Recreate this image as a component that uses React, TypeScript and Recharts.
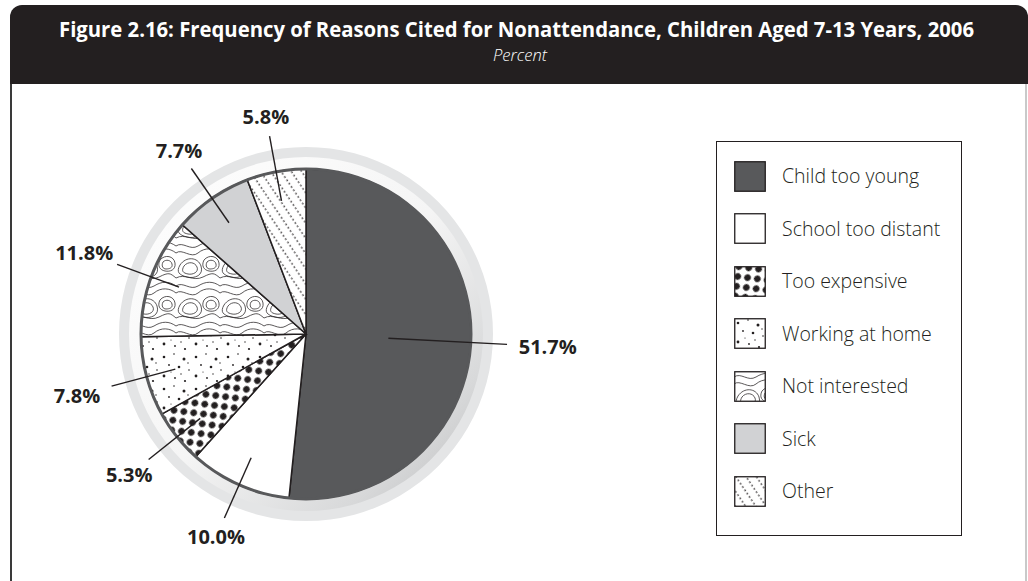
import React, { useLayoutEffect, useRef, useState } from 'react';
import { PieChart, Pie, Cell, Legend } from 'recharts';

const title = 'Figure 2.16: Frequency of Reasons Cited for Nonattendance, Children Aged 7-13 Years, 2006';
const subtitle = 'Percent';
const categories = ['Child too young', 'School too distant', 'Too expensive', 'Working at home', 'Not interested', 'Sick', 'Other'];
const percentages = [51.7, 10.0, 5.3, 7.8, 11.8, 7.7, 5.8];

const fills = ['#58595b', '#ffffff', 'url(#pDots)', 'url(#pSpeckle)', 'url(#pContour)', '#d1d2d4', 'url(#pDiag)'];

const data = categories.map((name, i) => ({ name, value: percentages[i] }));
const ring = [{ name: 'ring', value: 1 }];

const INK = '#231f20';
const RAD = Math.PI / 180;
const CX = 306;
const CY = 334;
const R = 165;
const TITLE_WIDTH = 915;

const renderLabel = (props: any) => {
  const { cx, cy, midAngle, outerRadius, value, percent } = props;
  const cos = Math.cos(-midAngle * RAD);
  const sin = Math.sin(-midAngle * RAD);
  const r0 = percent > 0.3 ? outerRadius * 0.5 : outerRadius * 0.82;
  const r1 = outerRadius * 1.22;
  const text = Number(value).toFixed(1) + '%';
  const w = text.length * 11.5;
  const h = 16;
  const dx = Math.abs(cos) > 1e-6 ? w / 2 / Math.abs(cos) : Infinity;
  const dy = Math.abs(sin) > 1e-6 ? h / 2 / Math.abs(sin) : Infinity;
  const d = Math.min(dx, dy) + 12;
  const lx = cx + (r1 + d) * cos;
  const ly = cy + (r1 + d) * sin;
  return (
    <g>
      <line x1={cx + r0 * cos} y1={cy + r0 * sin} x2={cx + r1 * cos} y2={cy + r1 * sin} stroke={INK} strokeWidth={1.4} />
      <text x={lx} y={ly} textAnchor="middle" dominantBaseline="central" fill={INK}
        style={{ fontFamily: "'Open Sans', 'Noto Sans', sans-serif", fontWeight: 700, fontSize: 20 }}>
        {text}
      </text>
    </g>
  );
};

const renderLegend = () => (
  <div style={{
    boxSizing: 'border-box', width: 246, height: 395, border: `1.5px solid ${INK}`, background: '#fff',
    paddingTop: 19, paddingLeft: 17,
  }}>
    {categories.map((c, i) => (
      <div key={c} style={{ display: 'flex', alignItems: 'center', height: 30, marginBottom: i < categories.length - 1 ? 22.5 : 0 }}>
        <svg width={32} height={31} style={{ display: 'block' }}>
          <rect x={0.75} y={0.75} width={30.5} height={29.5} fill={fills[i]} stroke={INK} strokeWidth={1.3} />
        </svg>
        <span style={{
          marginLeft: 16, fontFamily: "'Open Sans', 'Noto Sans', sans-serif", fontWeight: 300, fontSize: 19.5,
          color: INK, whiteSpace: 'nowrap', lineHeight: '30px',
        }}>{c}</span>
      </div>
    ))}
  </div>
);

const Defs = () => (
  <svg width={0} height={0} style={{ position: 'absolute', left: 0, top: 0 }}>
    <defs>
      <pattern id="pDots" patternUnits="userSpaceOnUse" width={14} height={14} patternTransform="rotate(-38)">
        <rect width={14} height={14} fill="#fff" />
        <circle cx={3.5} cy={3.5} r={3.3} fill={INK} />
        <circle cx={10.5} cy={10.5} r={3.3} fill={INK} />
      </pattern>
      <pattern id="pSpeckle" patternUnits="userSpaceOnUse" width={32} height={32}>
        <rect width={32} height={32} fill="#fff" />
        <circle cx={4} cy={5} r={1.3} fill={INK} />
        <circle cx={14} cy={2} r={0.8} fill={INK} />
        <circle cx={24} cy={7} r={1.5} fill={INK} />
        <circle cx={9} cy={13} r={0.9} fill={INK} />
        <circle cx={19} cy={15} r={1.3} fill={INK} />
        <circle cx={29} cy={18} r={0.8} fill={INK} />
        <circle cx={4} cy={24} r={1.4} fill={INK} />
        <circle cx={15} cy={26} r={0.9} fill={INK} />
        <circle cx={25} cy={29} r={1.1} fill={INK} />
        <circle cx={11} cy={20} r={0.6} fill={INK} />
        <circle cx={28} cy={11} r={0.7} fill={INK} />
        <circle cx={21} cy={22} r={0.7} fill={INK} />
      </pattern>
      <pattern id="pContour" patternUnits="userSpaceOnUse" width={44} height={40}>
        <rect width={44} height={40} fill="#fff" />
        <g fill="none" stroke={INK} strokeWidth={0.75}>
          <path d="M0 6 C7 1, 14 11, 22 6 S37 1, 44 6" />
          <path d="M0 13 C6 8, 15 19, 22 13 S38 8, 44 13" />
          <path d="M8 26 c4 -5 11 -4 13 1 s-4 8 -9 7 s-7 -3 -4 -8z" />
          <path d="M4 25 c6 -9 18 -8 21 1 s-6 13 -14 11 s-11 -5 -7 -12z" />
          <path d="M0 38 C9 33, 17 42, 27 37 S38 33, 44 38" />
          <path d="M31 22 c3 -3 8 -2 9 2 s-3 5 -6 5 s-5 -3 -3 -7z" />
          <path d="M28 20 c5 -6 14 -4 15 3 s-5 9 -10 8 s-8 -5 -5 -11z" />
        </g>
      </pattern>
      <pattern id="pDiag" patternUnits="userSpaceOnUse" width={8.5} height={4} patternTransform="rotate(-34)">
        <rect width={8.5} height={4} fill="#fff" />
        <circle cx={1.2} cy={2} r={0.85} fill={INK} />
      </pattern>
      <linearGradient id="gShadow" x1="0" y1="0" x2="1" y2="1">
        <stop offset="0" stopColor="#ffffff" />
        <stop offset="0.5" stopColor="#f5f5f5" />
        <stop offset="0.8" stopColor="#d8d9da" />
        <stop offset="1" stopColor="#b9babb" />
      </linearGradient>
    </defs>
  </svg>
);

function Title() {
  const ref = useRef<SVGTextElement | null>(null);
  const [sx, setSx] = useState(0.9);
  useLayoutEffect(() => {
    if (ref.current) {
      const len = ref.current.getComputedTextLength();
      if (len > 0) setSx(TITLE_WIDTH / len);
    }
  }, []);
  return (
    <svg width={1028} height={84} style={{ position: 'absolute', left: 0, top: 0 }}>
      <g transform={`translate(516.5 28) scale(${sx} 1.08)`}>
        <text ref={ref} x={0} y={0} textAnchor="middle" dominantBaseline="central" fill="#fff"
          style={{ fontFamily: "'Open Sans', 'Noto Sans', sans-serif", fontWeight: 700, fontSize: 20.5 }}>
          {title}
        </text>
      </g>
      <text x={520} y={54} textAnchor="middle" dominantBaseline="central" fill="#fff"
        style={{ fontFamily: "'Open Sans', 'Noto Sans', sans-serif", fontStyle: 'italic', fontWeight: 300, fontSize: 16.5 }}>
        {subtitle}
      </text>
    </svg>
  );
}

export default function App() {
  return (
    <div style={{ position: 'absolute', left: 0, top: 0, width: 1028, height: 581, overflow: 'hidden', background: '#fff' }}>
      <Defs />
      <div style={{ position: 'absolute', left: 10, top: 5, width: 1018, height: 79, background: INK, borderRadius: '12px 12px 0 0' }} />
      <div style={{
        position: 'absolute', left: 10, top: 84, width: 1017, height: 497, boxSizing: 'border-box',
        borderLeft: '2px solid #3a3a3a', borderRight: '2px solid #c9c9c9', background: '#fff',
      }} />
      <Title />
      <div style={{ position: 'absolute', left: 0, top: 0 }}>
        <PieChart width={1028} height={581} margin={{ top: 0, right: 0, bottom: 0, left: 0 }}>
          <Pie data={ring} dataKey="value" cx={CX} cy={CY} innerRadius={176} outerRadius={187} startAngle={90} endAngle={-270}
            fill="#e4e5e6" stroke="none" isAnimationActive={false} legendType="none" />
          <Pie data={ring} dataKey="value" cx={CX} cy={CY} innerRadius={160} outerRadius={177} startAngle={90} endAngle={-270}
            fill="url(#gShadow)" stroke="none" isAnimationActive={false} legendType="none" />
          <Pie data={data} dataKey="value" nameKey="name" cx={CX} cy={CY} outerRadius={R} startAngle={90} endAngle={-270}
            isAnimationActive={false} label={renderLabel} labelLine={false}>
            {data.map((d, i) => (
              <Cell key={d.name} fill={fills[i]} stroke={INK} strokeWidth={1.5} />
            ))}
          </Pie>
          <Pie data={ring} dataKey="value" cx={CX} cy={CY} innerRadius={163.5} outerRadius={166.5} startAngle={90} endAngle={-270}
            fill="#58595b" stroke="none" isAnimationActive={false} legendType="none" />
          <Legend content={renderLegend} wrapperStyle={{ position: 'absolute', left: 716, top: 141, width: 246, height: 395 }} />
        </PieChart>
      </div>
    </div>
  );
}
